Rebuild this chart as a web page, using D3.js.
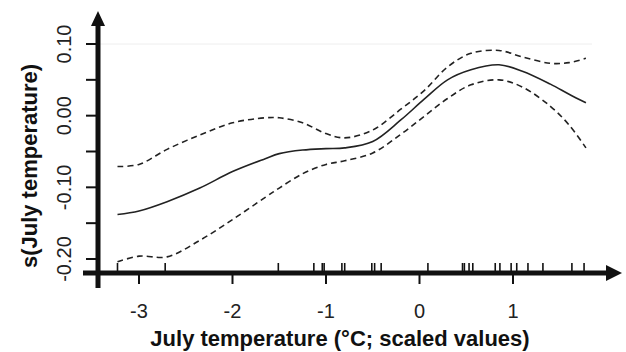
<!DOCTYPE html>
<html>
<head>
<meta charset="utf-8">
<script src="https://cdn.jsdelivr.net/npm/d3@7"></script>
<style>
  body { margin: 0; background: #fff; }
  svg { display: block; }
</style>
</head>
<body>
<div id="chart"></div>
<script>
// smooth term and its confidence band
const xGrid = [-3.23, -3.0, -2.7, -2.35, -2.0, -1.65, -1.5, -1.25, -1.0, -0.8, -0.5, -0.2, 0.05, 0.3, 0.55, 0.85, 1.1, 1.4, 1.6, 1.78];
const fitValues = [-0.138, -0.133, -0.120, -0.101, -0.078, -0.060, -0.053, -0.048, -0.046, -0.045, -0.036, -0.006, 0.023, 0.050, 0.064, 0.071, 0.062, 0.044, 0.030, 0.018];
const upperValues = [-0.071, -0.068, -0.047, -0.027, -0.010, -0.003, -0.003, -0.010, -0.025, -0.031, -0.020, 0.009, 0.035, 0.068, 0.087, 0.091, 0.082, 0.073, 0.074, 0.080];
const lowerValues = [-0.204, -0.196, -0.197, -0.174, -0.145, -0.114, -0.101, -0.081, -0.068, -0.063, -0.052, -0.026, -0.001, 0.024, 0.043, 0.050, 0.040, 0.013, -0.013, -0.045];

// observations (rug)
const rugValues = [-3.23, -2.72, -1.51, -1.13, -1.04, -1.02, -0.83, -0.80, -0.51, -0.48, -0.41, 0.09, 0.46, 0.48, 0.53, 0.57, 0.81, 0.86, 0.98, 1.04, 1.16, 1.32, 1.63, 1.76];

const xTicks = [-3, -2, -1, 0, 1];
const yTicks = [-0.20, -0.15, -0.10, -0.05, 0.00, 0.05, 0.10];
const yLabels = ["-0.20", "-0.10", "0.00", "0.10"];

const width = 626, height = 352;

const svg = d3.select('#chart')
  .append('svg')
  .attr('width', width)
  .attr('height', height);

const x = d3.scaleLinear().domain([-3, 1]).range([139, 513]);
const y = d3.scaleLinear().domain([-0.2, 0.1]).range([259, 44]);

const axisY = 273, axisX = 98;
const ink = '#111';

// faint top reference line
svg.append('line')
  .attr('x1', axisX).attr('x2', 592)
  .attr('y1', y(0.1)).attr('y2', y(0.1))
  .attr('stroke', '#eeeeee').attr('stroke-width', 1);

// y ticks
svg.selectAll('.ytick')
  .data(yTicks)
  .enter()
  .append('line')
  .attr('x1', axisX - 12).attr('x2', axisX)
  .attr('y1', d => y(d)).attr('y2', d => y(d))
  .attr('stroke', ink).attr('stroke-width', 2);

svg.selectAll('.ylab')
  .data(yLabels)
  .enter()
  .append('text')
  .attr('transform', d => 'translate(71,' + y(+d) + ') rotate(-90)')
  .attr('text-anchor', 'middle')
  .attr('font-family', 'Liberation Sans, Arial, sans-serif')
  .attr('font-size', 20)
  .attr('fill', '#222')
  .text(d => d);

// x ticks
svg.selectAll('.xtick')
  .data(xTicks)
  .enter()
  .append('line')
  .attr('x1', d => x(d)).attr('x2', d => x(d))
  .attr('y1', axisY).attr('y2', axisY + 11)
  .attr('stroke', ink).attr('stroke-width', 2);

svg.selectAll('.xlab')
  .data(xTicks)
  .enter()
  .append('text')
  .attr('x', d => x(d))
  .attr('y', 318)
  .attr('text-anchor', 'middle')
  .attr('font-family', 'Liberation Sans, Arial, sans-serif')
  .attr('font-size', 20)
  .attr('fill', '#222')
  .text(d => d);

// rug
svg.selectAll('.rug')
  .data(rugValues)
  .enter()
  .append('line')
  .attr('x1', d => x(d)).attr('x2', d => x(d))
  .attr('y1', axisY - 10).attr('y2', axisY)
  .attr('stroke', ink).attr('stroke-width', 1.6);

// curves
const line = d3.line()
  .x((d, i) => x(xGrid[i]))
  .y(d => y(d))
  .curve(d3.curveCatmullRom);

svg.append('path')
  .attr('d', line(fitValues))
  .attr('fill', 'none')
  .attr('stroke', '#222')
  .attr('stroke-width', 1.6);

[upperValues, lowerValues].forEach(function (vals) {
  svg.append('path')
    .attr('d', line(vals))
    .attr('fill', 'none')
    .attr('stroke', '#222')
    .attr('stroke-width', 1.6)
    .attr('stroke-dasharray', '6,4');
});

// axes with arrows
svg.append('line')
  .attr('x1', 83).attr('x2', 610)
  .attr('y1', axisY).attr('y2', axisY)
  .attr('stroke', ink).attr('stroke-width', 5);
svg.append('path')
  .attr('d', 'M606,' + (axisY - 8) + 'L622,' + axisY + 'L606,' + (axisY + 8) + 'Z')
  .attr('fill', ink);

svg.append('line')
  .attr('x1', axisX).attr('x2', axisX)
  .attr('y1', 288).attr('y2', 22)
  .attr('stroke', ink).attr('stroke-width', 5);
svg.append('path')
  .attr('d', 'M' + (axisX - 7) + ',26L' + axisX + ',11L' + (axisX + 7) + ',26Z')
  .attr('fill', ink);

// titles
svg.append('text')
  .attr('x', 340)
  .attr('y', 346)
  .attr('text-anchor', 'middle')
  .attr('font-family', 'Liberation Sans, Arial, sans-serif')
  .attr('font-weight', 'bold')
  .attr('font-size', 22)
  .attr('fill', ink)
  .text('July temperature (°C; scaled values)');

svg.append('text')
  .attr('transform', 'translate(37,166) rotate(-90)')
  .attr('text-anchor', 'middle')
  .attr('font-family', 'Liberation Sans, Arial, sans-serif')
  .attr('font-weight', 'bold')
  .attr('font-size', 22)
  .attr('fill', ink)
  .text('s(July temperature)');
</script>
</body>
</html>
